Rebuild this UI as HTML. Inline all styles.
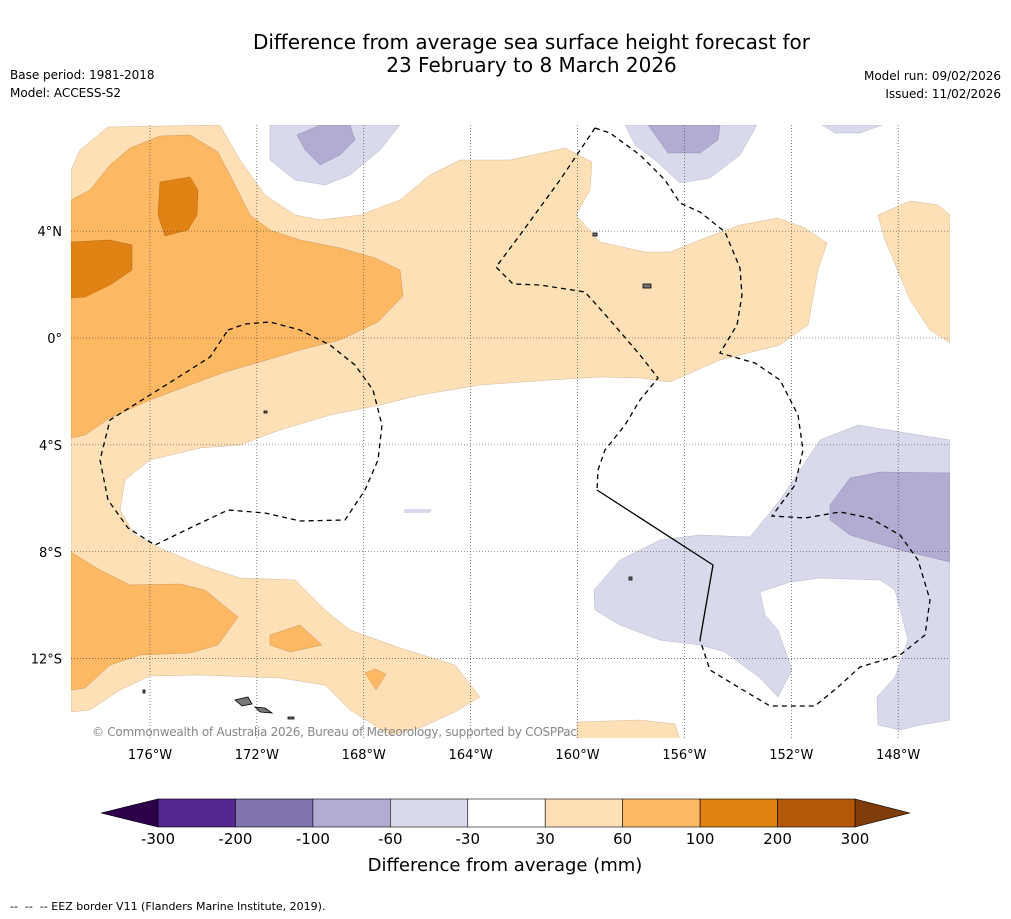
<!DOCTYPE html>
<html><head><meta charset="utf-8"><style>
body{margin:0;background:#fff;font-family:"DejaVu Sans",sans-serif;}
.t{position:absolute;font-size:12px;color:#000;font-family:"DejaVu Sans",sans-serif}
</style></head><body>
<div style="position:relative;width:1011px;height:919px;overflow:hidden;background:#fff">
<div style="position:absolute;left:0;width:1063px;top:31px;text-align:center;font-size:20px;line-height:23px;font-family:'DejaVu Sans',sans-serif">Difference from average sea surface height forecast for<br>23 February to 8 March 2026</div>
<div class="t" style="left:10px;top:68px">Base period: 1981-2018</div>
<div class="t" style="left:10px;top:86px">Model: ACCESS-S2</div>
<div class="t" style="right:10px;top:69px">Model run: 09/02/2026</div>
<div class="t" style="right:10px;top:87px">Issued: 11/02/2026</div>
<div class="t" style="left:10px;top:900px;font-size:11px">-- &nbsp;-- &nbsp;-- EEZ border V11 (Flanders Marine Institute, 2019).</div>
<svg id="map" width="1011" height="919" style="position:absolute;left:0;top:0">
<defs><clipPath id="mc"><rect x="71" y="125" width="879" height="613"/></clipPath></defs>
<g clip-path="url(#mc)" id="fills">
<polygon fill="#fde0b6" stroke="#c9a98a" stroke-width="0.4" points="71,170 80,150 108,127 220,125 240,160 265,195 295,215 320,220 360,215 400,200 430,175 460,160 510,160 565,148 592,162 590,190 576,215 600,242 645,252 670,252 700,240 740,225 778,218 805,228 827,243 818,270 808,325 780,345 720,360 670,382 640,378 600,377 550,380 480,385 420,395 380,405 330,415 280,430 240,445 200,448 150,460 125,480 120,510 135,535 160,548 200,565 240,578 295,580 325,610 350,630 400,648 455,665 480,697 455,712 420,728 390,735 350,710 325,685 280,678 200,675 150,676 120,690 90,710 71,712"/>
<polygon fill="#fde0b6" stroke="#c9a98a" stroke-width="0.4" points="577,722 640,720 675,724 680,740 577,740"/>
<polygon fill="#fde0b6" stroke="#c9a98a" stroke-width="0.4" points="878,215 910,201 938,205 950,215 950,343 930,330 910,300 885,240"/>
<polygon fill="#fdb863" stroke="#c08a50" stroke-width="0.4" points="71,200 90,190 110,165 130,148 160,136 190,135 218,152 235,185 250,215 270,230 300,240 340,248 375,258 400,270 403,296 378,322 340,340 300,350 260,362 225,372 190,385 150,400 110,418 85,435 71,438"/>
<polygon fill="#fdb863" stroke="#c08a50" stroke-width="0.4" points="71,552 100,570 130,585 180,584 205,590 238,617 218,645 190,653 140,655 110,665 85,688 71,690"/>
<polygon fill="#fdb863" stroke="#c08a50" stroke-width="0.4" points="270,635 300,625 322,645 290,652 270,645"/>
<polygon fill="#fdb863" stroke="#c08a50" stroke-width="0.4" points="365,673 375,669 386,674 376,690"/>
<polygon fill="#e08214" stroke="#a86010" stroke-width="0.4" points="160,182 190,177 198,190 197,215 188,230 165,236 158,215"/>
<polygon fill="#e08214" stroke="#a86010" stroke-width="0.4" points="71,242 110,240 132,245 132,270 110,285 85,297 71,298"/>
<polygon fill="#d8daeb" stroke="#a8a8c0" stroke-width="0.4" points="270,125 400,125 380,150 350,175 325,185 295,180 270,160"/>
<polygon fill="#d8daeb" stroke="#a8a8c0" stroke-width="0.4" points="625,125 757,125 740,155 710,178 680,183 655,160 635,145"/>
<polygon fill="#d8daeb" stroke="#a8a8c0" stroke-width="0.4" points="822,125 882,125 860,133 835,133"/>
<polygon fill="#d8daeb" stroke="#a8a8c0" stroke-width="0.4" points="594,590 620,560 660,540 700,535 750,537 780,500 800,470 820,440 858,425 900,432 950,440 950,720 920,725 900,730 878,725 877,697 895,677 908,640 895,590 880,580 820,578 790,582 760,592 765,615 778,630 792,670 778,697 760,678 725,652 700,645 660,640 620,625 595,610"/>
<polygon fill="#d8daeb" points="404,509 432,509 430,513 404,513"/>
<polygon fill="#b2abd2" stroke="#8a84a8" stroke-width="0.4" points="297,135 320,125 350,125 355,140 340,155 320,165 305,150"/>
<polygon fill="#b2abd2" stroke="#8a84a8" stroke-width="0.4" points="648,125 720,125 718,140 700,153 668,153"/>
<polygon fill="#b2abd2" stroke="#8a84a8" stroke-width="0.4" points="830,505 850,478 880,472 950,473 950,562 900,550 850,535 830,520"/>
</g>
<g id="grid" stroke="#333" stroke-width="0.6" stroke-dasharray="1,2"></g>
<g clip-path="url(#mc)" fill="none" stroke="#000" stroke-width="1.3">
<polyline stroke-dasharray="5,4" points="228,330 245,324 270,322 300,330 330,345 355,365 373,390 382,425 378,460 365,490 345,520 300,521 265,513 228,510 190,528 155,545 128,528 108,500 100,460 110,420 150,395 185,373 210,357 228,330"/>
<polyline stroke-dasharray="5,4" points="595,128 610,133 640,155 665,180 680,203 700,212 725,232 740,268 742,295 737,325 720,353 755,363 780,380 798,415 803,450 795,485 772,516 805,518 840,512 870,518 900,535 918,560 930,600 925,635 900,655 860,667 838,687 815,706 770,706 743,690 710,670 700,640"/>
<polyline stroke-dasharray="5,4" points="595,128 560,180 520,235 496,267 513,284 540,285 585,292 610,320 640,355 658,378 640,400 625,425 605,450 598,470 597,490"/>
<polyline points="597,490 713,565 700,640"/>
</g>
<g fill="#777" stroke="#000" stroke-width="0.8">
<polygon points="235,700 248,697 252,704 242,706"/><polygon points="255,707 265,708 272,713 260,712"/>
<rect x="643" y="284" width="8" height="4"/><rect x="593" y="233" width="4" height="3"/><rect x="264" y="411" width="3" height="2"/><rect x="629" y="577" width="3" height="3"/><rect x="288" y="717" width="6" height="2"/><rect x="143" y="690" width="2" height="3"/>
</g>
<text x="92" y="736" font-size="12" fill="#888" font-family="DejaVu Sans" textLength="485">© Commonwealth of Australia 2026, Bureau of Meteorology, supported by COSPPac</text>
<g id="axes" font-family="DejaVu Sans" font-size="13" fill="#000"></g>
<g id="cbar"></g>
<text x="505" y="871" text-anchor="middle" font-size="18" font-family="DejaVu Sans">Difference from average (mm)</text>
</svg>
</div>
<script>
const lonTicks=[-176,-172,-168,-164,-160,-156,-152,-148];
const latTicks=[4,0,-4,-8,-12];
const levels=[-300,-200,-100,-60,-30,30,60,100,200,300];
const levelColors=["#54278f","#8073ac","#b2abd2","#d8daeb","#ffffff","#fee0b6","#fdb863","#e08214","#b35806"];
const extendColors=["#2d004b","#7f3b08"];
const NS="http://www.w3.org/2000/svg";
const x=lon=>150+(lon+176)*26.72, y=lat=>338-lat*26.72;
const grid=document.getElementById('grid'),axes=document.getElementById('axes'),cb=document.getElementById('cbar');
function mk(tag,a,p){const e=document.createElementNS(NS,tag);for(const k in a)e.setAttribute(k,a[k]);p.appendChild(e);return e;}
lonTicks.forEach(l=>{
 const ln=mk('line',{x1:x(l),x2:x(l),y1:125,y2:738},grid);
 
 
 const t=mk('text',{x:x(l),y:759,'text-anchor':'middle'},axes);t.textContent=Math.abs(l)+'°W';
 
 
});
latTicks.forEach(l=>{
 const ln=mk('line',{x1:71,x2:950,y1:y(l),y2:y(l)},grid);
 
 
 const t=mk('text',{x:62,y:y(l)+5,'text-anchor':'end'},axes);t.textContent=l==0?'0°':Math.abs(l)+'°'+(l>0?'N':'S');
 
 
});
const cx0=158,cw=(855-158)/levelColors.length,cy=799,ch=28;
const lt=mk('polygon',{points:`101,813 ${cx0},${cy} ${cx0},${cy+ch}`,fill:extendColors[0],stroke:'#000','stroke-width':0.6},cb);


const rt=mk('polygon',{points:`910,813 855,${cy} 855,${cy+ch}`,fill:extendColors[1],stroke:'#000','stroke-width':0.6},cb);


levelColors.forEach((c,i)=>{
 const r=mk('rect',{x:cx0+i*cw,y:cy,width:cw,height:ch,fill:c,stroke:'#000','stroke-width':0.6},cb);
 
 
});
levels.forEach((v,i)=>{
 const t=mk('text',{x:cx0+i*cw,y:844,'text-anchor':'middle','font-size':15,'font-family':'DejaVu Sans'},cb);t.textContent=v;
 
 
});
</script>
</body></html>
